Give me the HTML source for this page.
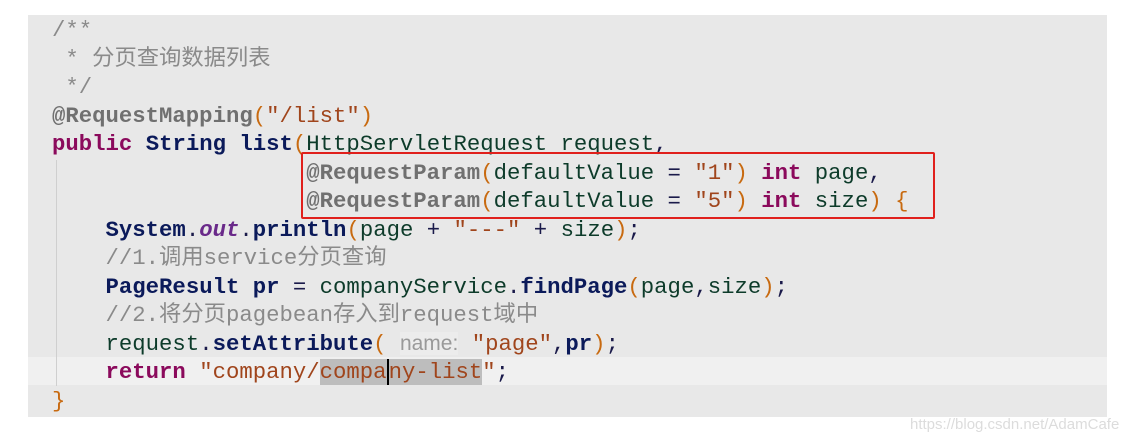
<!DOCTYPE html>
<html><head><meta charset="utf-8"><style>
html,body{margin:0;padding:0;background:#fff;width:1140px;height:441px;overflow:hidden;position:relative}
#bg{position:absolute;left:28px;top:15px;width:1079px;height:402px;background:#e8e8e8}
#hl{position:absolute;left:28px;top:357px;width:1079px;height:28px;background:#f0f0f0}
#vl{position:absolute;left:56px;top:160px;width:1px;height:226px;background:#cfcfcf}
#box{position:absolute;left:301px;top:152px;width:630px;height:63px;border:2.5px solid #e0201c;border-radius:2px}
pre{position:absolute;left:52px;top:16px;margin:0;font-family:"Liberation Mono","Noto Sans CJK SC",monospace;font-size:22.3px;line-height:28.5px;color:#1a1a4a}
.c{color:#8a8a8a}.k{color:#8b0a5c;font-weight:bold}.b{color:#0b1a5a;font-weight:bold}.a{color:#707070;font-weight:bold}
.s{color:#a0451c}.p{color:#c86a10}.n{color:#0d3b2a}.i{font-style:italic;color:#6a2a8a;font-weight:bold}
.h{color:#999;font-family:"Liberation Sans",sans-serif;font-size:21px;background:#ececec}
.sel{background:#bdbdbd}.cur{border-left:2px solid #000}
#wm{position:absolute;left:910px;top:416px;font-family:"Liberation Sans",sans-serif;font-size:15px;color:#dcdcdc}
</style></head><body>
<div id="bg"></div><div id="hl"></div><div id="vl"></div>
<pre><span class="c">/**
 * 分页查询数据列表
 */</span>
<span class="a">@RequestMapping</span><span class="p">(</span><span class="s">"/list"</span><span class="p">)</span>
<span class="k">public</span> <span class="b">String list</span><span class="p">(</span><span class="n">HttpServletRequest request</span>,
                   <span class="a">@RequestParam</span><span class="p">(</span><span class="n">defaultValue</span> = <span class="s">"1"</span><span class="p">)</span> <span class="k">int</span> <span class="n">page</span>,
                   <span class="a">@RequestParam</span><span class="p">(</span><span class="n">defaultValue</span> = <span class="s">"5"</span><span class="p">)</span> <span class="k">int</span> <span class="n">size</span><span class="p">)</span> <span class="p">{</span>
    <span class="b">System</span>.<span class="i">out</span>.<span class="b">println</span><span class="p">(</span><span class="n">page</span> + <span class="s">"---"</span> + <span class="n">size</span><span class="p">)</span>;
    <span class="c">//1.调用service分页查询</span>
    <span class="b">PageResult pr</span> = <span class="n">companyService</span>.<span class="b">findPage</span><span class="p">(</span><span class="n">page</span>,<span class="n">size</span><span class="p">)</span>;
    <span class="c">//2.将分页pagebean存入到request域中</span>
    <span class="n">request</span>.<span class="b">setAttribute</span><span class="p">(</span> <span class="h">name:</span> <span class="s">"page"</span>,<span class="b">pr</span><span class="p">)</span>;
    <span class="k">return</span> <span class="s">"company/<span class="sel">compa</span><span class="sel cur">ny-list</span>"</span>;
<span class="p">}</span></pre>
<div id="box"></div>
<div id="wm">https://blog.csdn.net/AdamCafe</div>
</body></html>
